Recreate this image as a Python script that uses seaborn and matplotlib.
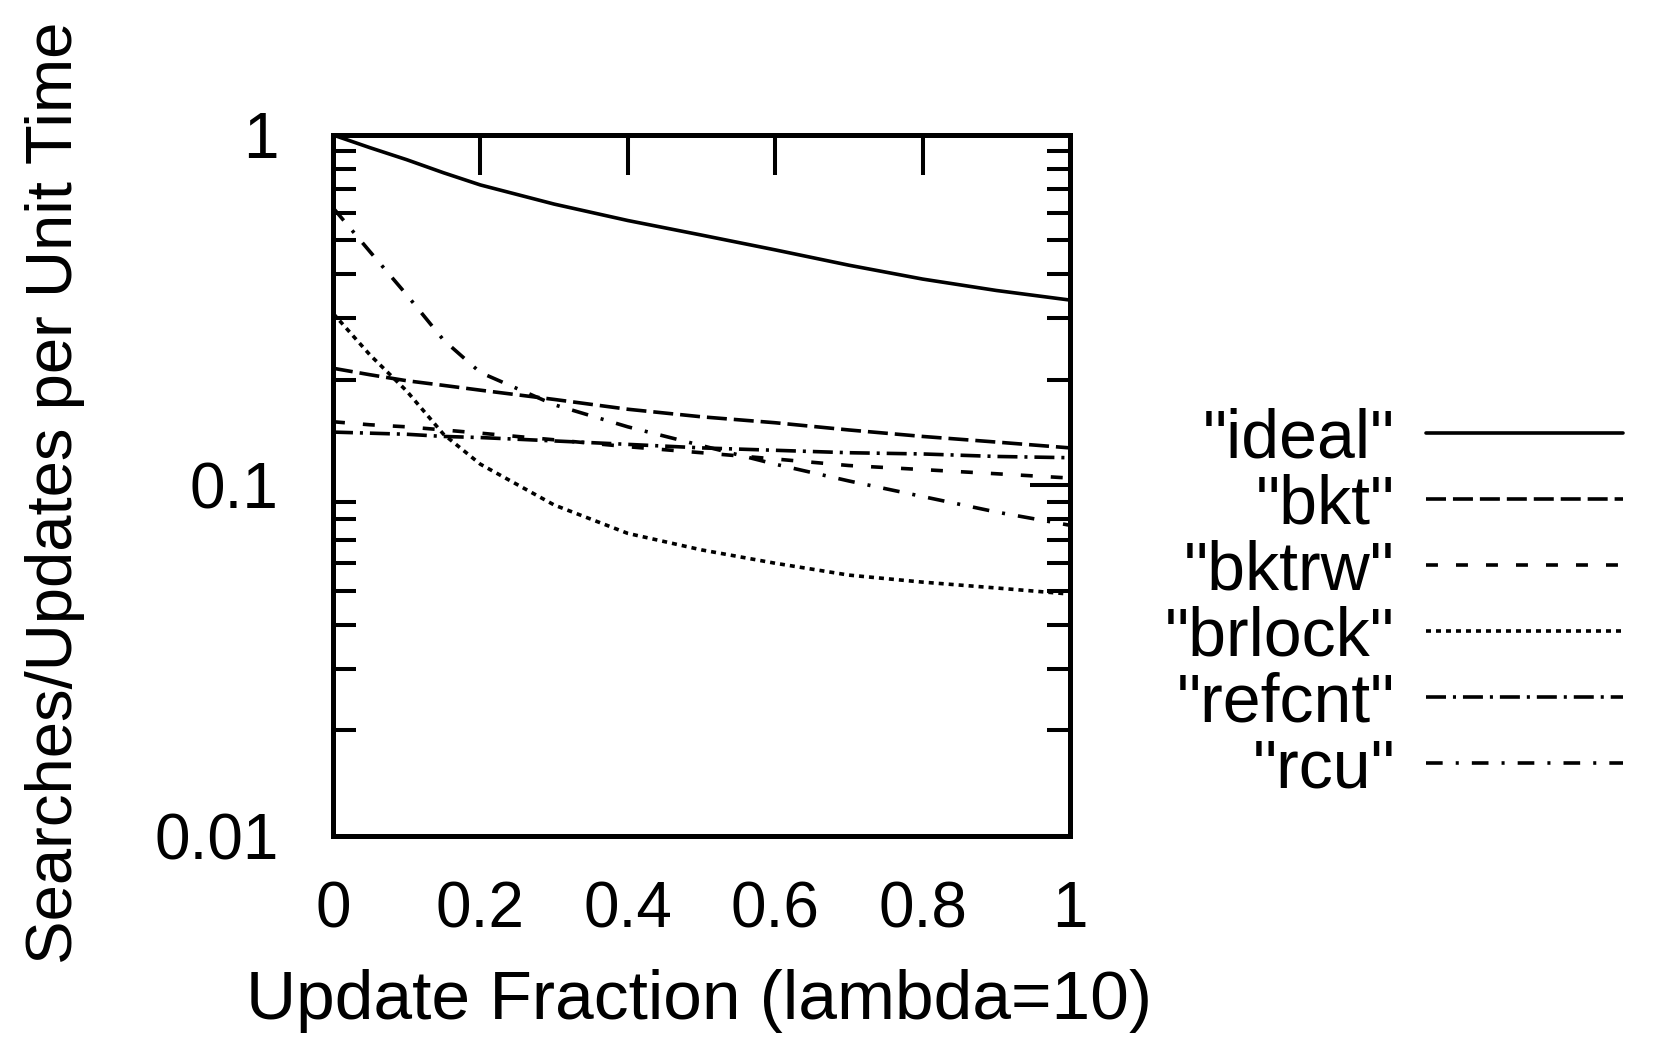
import numpy as np
import pandas as pd
import matplotlib
matplotlib.use("Agg")
import matplotlib.pyplot as plt
import matplotlib.ticker as mticker
import seaborn as sns

# update fraction values (x)
frac = [0, 0.05, 0.1, 0.15, 0.2, 0.3, 0.4, 0.5, 0.6, 0.7, 0.8, 0.9, 1.0]

# searches/updates per unit time
ideal = [1.0, 0.92, 0.85, 0.78, 0.72, 0.635, 0.57, 0.518, 0.47, 0.425, 0.388, 0.36, 0.338]
bkt = [0.216, 0.207, 0.199, 0.193, 0.187, 0.176, 0.165, 0.157, 0.151, 0.144, 0.138, 0.133, 0.128]
bktrw = [0.152, 0.149, 0.147, 0.144, 0.141, 0.135, 0.129, 0.124, 0.119, 0.114, 0.111, 0.108, 0.105]
brlock = [0.31, 0.236, 0.186, 0.14, 0.115, 0.088, 0.073, 0.0655, 0.06, 0.0555, 0.053, 0.051, 0.049]
refcnt = [0.142, 0.141, 0.140, 0.138, 0.137, 0.134, 0.131, 0.128, 0.126, 0.124, 0.123, 0.121, 0.120]
rcu = [0.62, 0.465, 0.35, 0.26, 0.21, 0.17, 0.147, 0.13, 0.115, 0.103, 0.093, 0.084, 0.077]

names = ['"ideal"', '"bkt"', '"bktrw"', '"brlock"', '"refcnt"', '"rcu"']
series = [ideal, bkt, bktrw, brlock, refcnt, rcu]

rows = []
for name, vals in zip(names, series):
    for x, y in zip(frac, vals):
        rows.append({"frac": x, "rate": y, "series": name})
df = pd.DataFrame(rows)

sns.set_style("white")
plt.rcParams['font.family'] = ['Liberation Sans', 'DejaVu Sans']
plt.rcParams['lines.scale_dashes'] = False
plt.rcParams['text.color'] = 'black'
plt.rcParams['axes.labelcolor'] = 'black'
plt.rcParams['xtick.color'] = 'black'
plt.rcParams['ytick.color'] = 'black'

# dash patterns in points
dash_styles = {
    '"ideal"': "",
    '"bkt"': (14.4, 5.0),
    '"bktrw"': (8.6, 13.0),
    '"brlock"': (3.6, 3.6),
    '"refcnt"': (14.4, 5.0, 2.2, 5.0),
    '"rcu"': (12.0, 9.4, 2.2, 9.4),
}
palette = {n: "black" for n in names}
lw = 2.6

fig = plt.figure(figsize=(16.69, 10.38), dpi=100)
ax = fig.add_axes([0.1995, 0.1946, 0.4416, 0.6754])

sns.lineplot(
    data=df,
    x="frac",
    y="rate",
    hue="series",
    style="series",
    hue_order=names,
    style_order=names,
    palette=palette,
    dashes=dash_styles,
    linewidth=lw,
    ax=ax,
)

ax.set_yscale("log")
ax.set_xlim(0, 1)
ax.set_ylim(0.01, 1)

fs = 46
ax.xaxis.set_major_locator(mticker.MultipleLocator(0.2))
ax.xaxis.set_major_formatter(mticker.FuncFormatter(lambda v, p: "%g" % round(v, 2)))
ax.yaxis.set_major_locator(mticker.LogLocator(base=10, numticks=5))
ax.yaxis.set_minor_locator(mticker.LogLocator(base=10, subs=np.arange(2, 10), numticks=20))
ax.yaxis.set_major_formatter(mticker.FuncFormatter(lambda v, p: "%g" % v))
ax.yaxis.set_minor_formatter(mticker.NullFormatter())

ax.tick_params(axis="both", which="major", direction="in", length=29, width=2.9,
               labelsize=fs, top=True, right=True)
ax.tick_params(axis="y", which="minor", direction="in", length=16.5, width=2.9,
               left=True, right=True)
ax.tick_params(axis="x", which="major", pad=32)
ax.tick_params(axis="y", which="major", pad=39)

for s in ax.spines.values():
    s.set_linewidth(3.6)
    s.set_color("black")

ax.set_xlabel("Update Fraction (lambda=10)", fontsize=50)
ax.set_ylabel("Searches/Updates per Unit Time", fontsize=47)
ax.xaxis.set_label_coords(0.497, -0.19)
ax.yaxis.set_label_coords(-0.336, 0.49)

# legend: label on the left, line sample on the right
old = ax.get_legend()
handles = old.legend_handles
labels = [t.get_text() for t in old.get_texts()]
old.remove()
for h in handles:
    h.set_linewidth(lw)
leg = fig.legend(
    handles, labels,
    loc="center right",
    bbox_to_anchor=(0.9725, 0.418),
    frameon=False,
    markerfirst=False,
    fontsize=49,
    handlelength=2.9,
    handletextpad=0.45,
    labelspacing=0.03,
    borderpad=0,
    borderaxespad=0,
)

fig.savefig("out.png", dpi=100)
